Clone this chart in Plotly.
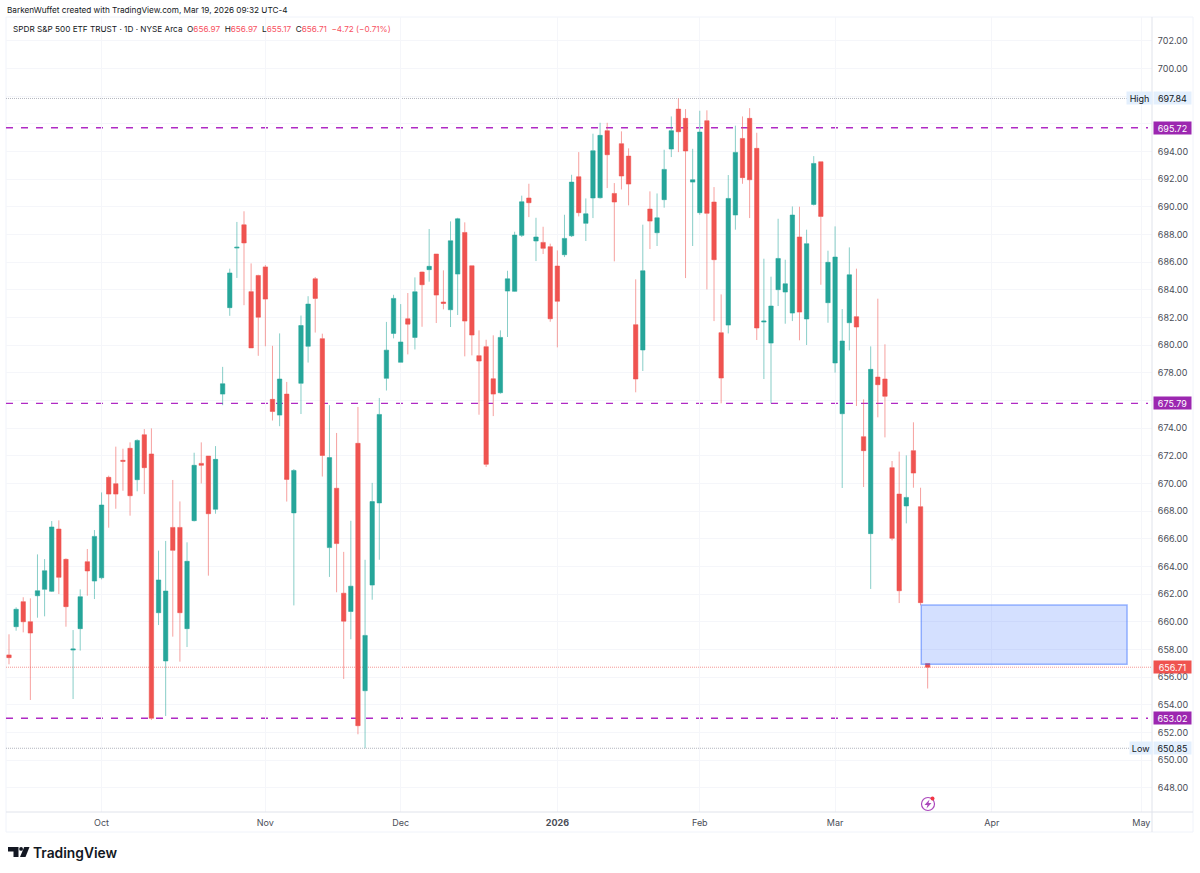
import plotly.graph_objects as go

# daily candles
opens = [657.60, 659.64, 661.45, 660.00, 661.88, 662.34, 662.20, 666.70, 664.51, 657.95,
         659.50, 664.34, 662.94, 663.18, 670.44, 669.98, 671.67, 672.54, 670.27, 673.52,
         672.13, 660.65, 657.16, 666.82, 666.82, 659.50, 667.31, 671.45, 671.98, 668.13,
         676.46, 682.71, 687.02, 688.70, 683.87, 685.04, 685.66, 676.08, 674.94, 676.46,
         667.87, 677.24, 679.92, 684.80, 680.47, 665.36, 669.65, 662.06, 660.74, 672.90,
         655.01, 662.65, 668.59, 677.60, 680.85, 678.76, 681.91, 680.56, 685.29, 685.46,
         686.59, 683.12, 682.56, 685.14, 688.15, 685.74, 679.24, 679.89, 677.57, 676.56,
         683.91, 683.89, 687.94, 690.64, 687.53, 687.43, 687.12, 685.72, 686.54, 687.91,
         692.18, 688.81, 690.64, 690.66, 695.51, 690.97, 694.57, 693.67, 681.48, 679.65,
         689.84, 688.13, 690.52, 694.18, 697.07, 696.40, 691.79, 689.58, 696.23, 690.35,
         680.90, 681.45, 689.41, 694.95, 696.40, 694.23, 681.67, 680.15, 684.01, 683.84,
         682.32, 687.82, 681.89, 690.18, 693.26, 683.07, 678.71, 675.04, 681.62, 682.06,
         673.38, 666.37, 677.69, 677.55, 671.14, 669.23, 668.37, 672.37, 668.32, 656.97]
highs = [659.09, 661.04, 661.77, 661.69, 664.87, 664.53, 667.28, 667.33, 664.58, 659.40,
         662.34, 665.26, 666.63, 669.35, 670.56, 672.66, 672.51, 672.97, 673.19, 673.93,
         673.98, 665.14, 665.84, 670.25, 668.70, 665.74, 672.22, 672.97, 671.98, 672.70,
         678.43, 685.53, 688.91, 689.68, 685.91, 685.09, 685.79, 679.95, 680.85, 677.34,
         671.04, 682.14, 683.54, 684.93, 680.83, 675.66, 673.65, 665.05, 667.30, 675.53,
         664.48, 670.04, 676.18, 681.68, 683.64, 682.97, 683.77, 684.90, 685.31, 688.40,
         686.59, 685.41, 688.95, 689.21, 688.88, 685.74, 681.07, 680.39, 680.71, 681.07,
         685.38, 688.20, 690.81, 691.67, 689.21, 688.56, 687.34, 686.85, 689.43, 692.32,
         693.96, 690.61, 695.29, 696.08, 696.08, 691.72, 695.46, 694.23, 684.76, 688.71,
         691.12, 690.97, 694.13, 696.54, 697.84, 697.07, 694.20, 696.95, 696.98, 691.43,
         683.67, 692.30, 695.87, 696.54, 697.14, 695.36, 686.25, 684.95, 689.14, 686.18,
         690.03, 690.01, 688.35, 693.67, 693.26, 686.83, 688.59, 682.61, 687.07, 685.53,
         676.08, 679.91, 683.36, 680.06, 671.62, 672.30, 672.03, 674.42, 669.69, 656.97]
lows = [656.92, 659.35, 659.23, 654.34, 660.29, 660.39, 662.15, 662.00, 659.64, 654.41,
        657.91, 661.88, 661.64, 663.06, 666.80, 668.17, 669.47, 667.67, 669.43, 669.23,
        652.89, 659.76, 653.18, 658.92, 657.11, 658.17, 667.25, 670.00, 663.33, 667.81,
        675.66, 682.12, 684.86, 682.89, 679.80, 679.23, 679.92, 674.55, 674.14, 668.69,
        661.18, 675.02, 678.74, 680.91, 670.50, 663.24, 662.13, 655.86, 658.73, 651.86,
        650.85, 661.59, 664.48, 676.72, 680.49, 678.76, 679.33, 679.69, 681.33, 684.59,
        681.60, 682.59, 681.31, 682.18, 679.19, 679.26, 674.97, 671.19, 674.87, 676.49,
        680.59, 683.87, 687.82, 689.26, 686.08, 686.59, 681.69, 679.84, 686.37, 687.82,
        689.31, 687.53, 689.19, 690.60, 691.36, 686.06, 691.26, 690.11, 676.59, 678.13,
        686.95, 687.17, 689.94, 693.60, 693.96, 684.85, 687.17, 689.43, 684.03, 681.74,
        675.79, 680.85, 688.35, 691.67, 689.19, 680.37, 677.55, 675.79, 682.83, 681.55,
        681.74, 680.35, 680.01, 690.10, 684.37, 681.62, 678.01, 669.67, 679.62, 675.60,
        669.74, 662.37, 674.78, 673.33, 665.88, 661.35, 667.11, 669.69, 661.18, 655.17]
closes = [657.40, 660.90, 660.00, 659.18, 662.24, 663.69, 666.85, 663.21, 661.09, 658.03,
          661.81, 663.67, 666.17, 668.44, 669.23, 669.23, 671.60, 669.11, 673.11, 671.14,
          653.02, 663.02, 662.22, 665.16, 660.65, 664.37, 671.31, 671.31, 667.81, 671.74,
          677.21, 685.22, 687.08, 687.39, 679.80, 682.02, 683.33, 675.20, 677.55, 670.29,
          670.94, 681.42, 682.97, 683.38, 672.02, 671.87, 665.65, 660.04, 662.57, 652.48,
          659.01, 668.69, 674.99, 679.64, 683.38, 680.23, 681.52, 683.86, 684.37, 685.70,
          683.62, 683.02, 687.55, 689.14, 681.74, 680.73, 678.85, 671.38, 676.46, 680.56,
          684.80, 687.96, 690.37, 690.30, 687.82, 687.00, 681.91, 683.17, 687.72, 691.79,
          689.58, 689.50, 694.06, 695.17, 693.77, 690.35, 692.23, 691.65, 677.55, 685.38,
          688.97, 689.21, 692.71, 695.51, 695.43, 694.04, 691.96, 695.41, 689.53, 686.18,
          677.62, 690.61, 693.94, 692.11, 691.96, 681.24, 681.74, 682.83, 686.27, 684.44,
          689.41, 682.39, 687.34, 693.14, 689.31, 685.99, 686.37, 680.30, 685.09, 681.31,
          672.37, 678.25, 677.14, 676.30, 666.03, 662.24, 668.99, 670.75, 661.38, 656.71]

bars = list(range(len(opens)))

month_bars = [13, 36, 55, 77, 97, 116, 138, 159]
month_labels = ['Oct', 'Nov', 'Dec', '<b>2026</b>', 'Feb', 'Mar', 'Apr', 'May']
price_ticks = list(range(648, 704, 2))
# these labels sit behind the price tags in the original
hidden_ticks = [676, 696, 698]

level_prices = [695.72, 675.79, 653.02]
high_price = 697.84
low_price = 650.85
last_price = 656.71
box_bars = [128.1, 157.0]
box_prices = [656.93, 661.21]

UP = '#26a69a'
DOWN = '#ef5350'
PURPLE = '#9c27b0'
FONT = 'Inter'
W, H = 1200, 873
LEFT, RIGHT, TOP, BOTTOM = 6, 1152, 17, 812


def px(x):
    return (x - LEFT) / (RIGHT - LEFT)


def py(y):
    return (BOTTOM - y) / (BOTTOM - TOP)


def path(points, close=True):
    d = 'M' + ' L'.join(f'{px(x):.5f} {py(y):.5f}' for x, y in points)
    return d + (' Z' if close else '')


fig = go.Figure(go.Candlestick(
    x=bars, open=opens, high=highs, low=lows, close=closes,
    increasing=dict(line=dict(color='rgba(38,166,154,0.55)', width=1), fillcolor=UP),
    decreasing=dict(line=dict(color='rgba(239,83,80,0.55)', width=1), fillcolor=DOWN),
    hoverinfo='skip', showlegend=False,
))

shapes = []
# frame around pane and axes
shapes.append(dict(type='rect', xref='paper', yref='paper', x0=px(LEFT), y0=py(TOP), x1=px(1193), y1=py(832),
                   line=dict(color='#f0f3fa', width=1), layer='below'))
shapes.append(dict(type='line', xref='paper', yref='paper', x0=px(RIGHT), x1=px(RIGHT), y0=py(TOP), y1=py(832),
                   line=dict(color='#e0e3eb', width=1)))
shapes.append(dict(type='line', xref='paper', yref='paper', x0=px(LEFT), x1=px(1193), y0=py(BOTTOM), y1=py(BOTTOM),
                   line=dict(color='#e0e3eb', width=1)))

# purple levels sit under the candles
for p in level_prices:
    shapes.append(dict(type='line', xref='paper', yref='y', x0=0, x1=px(1148), y0=p, y1=p, layer='between',
                       line=dict(color='#b02ac4', width=1.4, dash='7px,8px')))

shapes.append(dict(type='line', xref='paper', yref='y', x0=0, x1=px(1128), y0=high_price, y1=high_price, layer='between',
                   line=dict(color='#b2b5be', width=1, dash='1px,1px')))
shapes.append(dict(type='line', xref='paper', yref='y', x0=0, x1=px(1131), y0=low_price, y1=low_price, layer='between',
                   line=dict(color='#b2b5be', width=1, dash='1px,1px')))
shapes.append(dict(type='line', xref='paper', yref='y', x0=0, x1=1, y0=last_price, y1=last_price, layer='between',
                   line=dict(color='rgba(239,83,80,0.6)', width=1, dash='1px,1px')))

shapes.append(dict(type='rect', x0=box_bars[0], x1=box_bars[1], y0=box_prices[0], y1=box_prices[1],
                   fillcolor='rgba(41,98,255,0.2)', line=dict(color='rgba(41,98,255,0.45)', width=1.5)))

# flash icon under the last bar
shapes.append(dict(type='circle', xref='paper', yref='paper', x0=px(921.5), x1=px(934.5), y0=py(797.5), y1=py(810.5),
                   line=dict(color='#ab47bc', width=1.2)))
shapes.append(dict(type='path', xref='paper', yref='paper', line=dict(width=0), fillcolor='#ab47bc',
                   path=path([(929.5, 799.5), (924.5, 805), (927.5, 805), (926.5, 808.5), (931.5, 803), (928.5, 803)])))
shapes.append(dict(type='circle', xref='paper', yref='paper', x0=px(930.5), x1=px(934.5), y0=py(796.5), y1=py(800.5),
                   fillcolor='#f23645', line=dict(width=0)))

# TradingView mark
shapes.append(dict(type='path', xref='paper', yref='paper', line=dict(width=0), fillcolor='#131722',
                   path=path([(8, 847), (18.5, 847), (18.5, 857), (13.5, 857), (13.5, 851.5), (8, 851.5)])))
shapes.append(dict(type='circle', xref='paper', yref='paper', x0=px(19.2), x1=px(23), y0=py(847), y1=py(850.8),
                   fillcolor='#131722', line=dict(width=0)))
shapes.append(dict(type='path', xref='paper', yref='paper', line=dict(width=0), fillcolor='#131722',
                   path=path([(24.2, 847), (29.5, 847), (25.5, 857), (20, 857)])))

annotations = []


def note(text, x, y, size=9, color='#131722', anchor='left', **kw):
    annotations.append(dict(text=text, xref='paper', yref='paper', x=px(x), y=py(y), xanchor=anchor, yanchor='middle',
                            showarrow=False, font=dict(family=FONT, size=size, color=color), **kw))


def price_tag(text, price, x, width, bg, color, anchor='left'):
    annotations.append(dict(text=text, xref='paper', yref='y', x=px(x), y=price, xanchor=anchor, yanchor='middle',
                            showarrow=False, width=width, height=12, bgcolor=bg, borderpad=0, align='center',
                            font=dict(family=FONT, size=9, color=color)))


note('BarkenWuffet created with TradingView.com, Mar 19, 2026 09:32 UTC-4', 5, 10.5, size=8.2)
red = '<span style="color:#f7525f">%s</span>'
note('SPDR S&amp;P 500 ETF TRUST · 1D · NYSE Arca&nbsp;&nbsp;O' + red % '656.97' + '&nbsp;&nbsp;H' + red % '656.97'
     + '&nbsp;&nbsp;L' + red % '655.17' + '&nbsp;&nbsp;C' + red % '656.71' + '&nbsp;&nbsp;' + red % '−4.72 (−0.71%)',
     10.5, 29.5, size=8.2)
note('TradingView', 31, 852.5, size=13.8, color='#131722')
annotations[-1]['font']['weight'] = 600

for p in level_prices:
    price_tag(f'{p:.2f}', p, 1153, 37, PURPLE, '#ffffff')
price_tag(f'{last_price:.2f}', last_price, 1153, 37, '#ef5350', '#ffffff')
price_tag(f'{high_price:.2f}', high_price, 1153, 37, '#e3effd', '#131722')
price_tag('High', high_price, 1153, 25, '#e3effd', '#131722', anchor='right')
price_tag(f'{low_price:.2f}', low_price, 1153, 37, '#e3effd', '#131722')
price_tag('Low', low_price, 1153, 22, '#e3effd', '#131722', anchor='right')

fig.update_layout(
    width=W, height=H,
    margin=dict(l=LEFT, r=W - RIGHT, t=TOP, b=H - BOTTOM, autoexpand=False),
    paper_bgcolor='#ffffff', plot_bgcolor='#ffffff',
    font=dict(family=FONT, size=9, color='#4a4d57'),
    showlegend=False, boxgap=0.12,
    shapes=shapes, annotations=annotations,
    xaxis=dict(
        range=[-0.42, 160.5], tickmode='array', tickvals=month_bars, ticktext=month_labels,
        showgrid=True, gridcolor='#f5f6fa', gridwidth=1, zeroline=False, showline=False,
        ticks='outside', ticklen=2, tickcolor='#ffffff', rangeslider=dict(visible=False),
    ),
    yaxis=dict(
        side='right', range=[646.24, 703.73], tickmode='array', tickvals=price_ticks,
        ticktext=['' if t in hidden_ticks else f'{t:.2f}' for t in price_ticks],
        showgrid=True, gridcolor='#f5f6fa', gridwidth=1, zeroline=False, showline=False,
        ticks='outside', ticklen=3, tickcolor='#ffffff',
    ),
)

fig.write_html("out.html", config=dict(displayModeBar=False),
               post_script="document.body.style.margin='0';document.body.style.overflow='hidden';")
